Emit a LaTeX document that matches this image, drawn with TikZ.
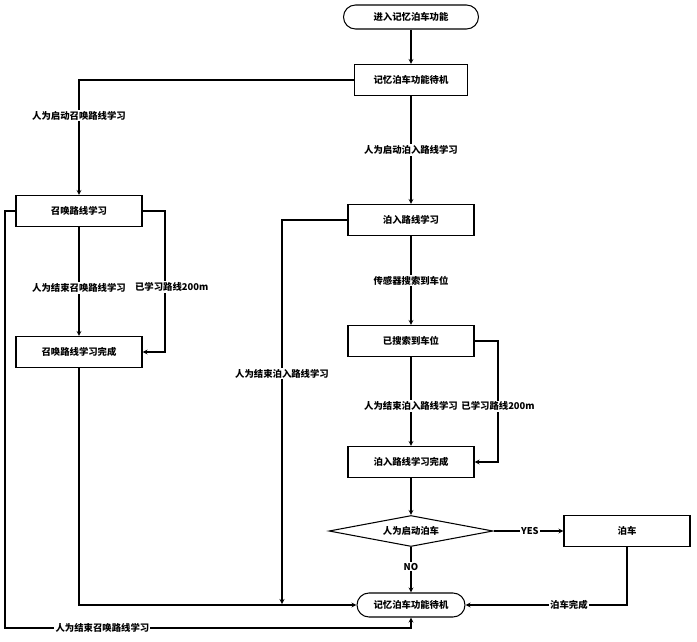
\documentclass[tikz,border=0pt]{standalone}
\usepackage{fontspec}
\usepackage{tikz}
\usetikzlibrary{shapes.geometric}
\newfontfamily\cjk{Noto Sans CJK SC}

\begin{document}
\begin{tikzpicture}[x=0.03cm,y=-0.03cm,line width=0.9pt,
	font=\cjk\bfseries\fontsize{8}{9.6}\selectfont,
	box/.style={draw,minimum width=3.78cm,minimum height=0.93cm,inner sep=1pt},
	termbox/.style={draw,rounded corners=0.36cm,minimum height=0.72cm,inner sep=1pt},
	decide/.style={draw,diamond,aspect=5.3,inner sep=0pt,minimum width=4.92cm,minimum height=0.93cm},
	lbl/.style={fill=white,inner sep=1pt}]
	\useasboundingbox (0,0) rectangle (697,642);
	% nodes
	\node[termbox,minimum width=4.05cm] (start) at (411,17) {进入记忆泊车功能};
	\node[box,minimum width=3.39cm] (idle) at (411,80) {记忆泊车功能待机};
	\node[box] (zh) at (79,211) {召唤路线学习};
	\node[box] (zhdone) at (79,352) {召唤路线学习完成};
	\node[box] (br) at (411,220) {泊入路线学习};
	\node[box] (found) at (411,341) {已搜索到车位};
	\node[box] (brdone) at (411,462) {泊入路线学习完成};
	\node[decide] (ask) at (411,531) {人为启动泊车};
	\node[box] (park) at (627,531) {泊车};
	\node[termbox,minimum width=3.24cm] (idle2) at (411,605) {记忆泊车功能待机};
	\coordinate (zhr) at (165,211);
	\coordinate (zhl) at (5,211);
	\coordinate (lbot) at (5,628);
	\coordinate (brj) at (282,604);
	\coordinate (fr) at (498,341);
	% straight arrows
	\path[-stealth]
	(start) edge (idle)
	(idle) edge node[lbl,pos=0.5] {人为启动泊入路线学习} (br)
	(zh) edge node[lbl,pos=0.56] {人为结束召唤路线学习} (zhdone)
	(br) edge node[lbl,pos=0.5] {传感器搜索到车位} (found)
	(found) edge node[lbl,pos=0.55] {人为结束泊入路线学习} (brdone)
	(brdone) edge (ask)
	(ask) edge node[lbl,pos=0.52] {YES} (park)
	(ask) edge node[lbl,pos=0.43] {NO} (idle2);
	% elbows
	\draw[-stealth] (idle) -| node[lbl,pos=0.655] {人为启动召唤路线学习} (zh);
	\draw[-stealth] (zh) -- (zhr) |- node[lbl,pos=0.27,xshift=0.2cm] {已学习路线200m} (zhdone);
	\draw[-stealth] (zh) -- (zhl) -- (lbot) -- node[lbl,pos=0.24] {人为结束召唤路线学习} (idle2.south |- lbot) -- (idle2);
	\draw[-stealth] (zhdone) |- (idle2);
	\draw[-stealth] (br) -| node[lbl,pos=0.70] {人为结束泊入路线学习} (brj);
	\draw[-stealth] (found) -- (fr) |- node[lbl,pos=0.27] {已学习路线200m} (brdone);
	\draw[-stealth] (park) |- node[lbl,pos=0.68] {泊车完成} (idle2);
\end{tikzpicture}
\end{document}
